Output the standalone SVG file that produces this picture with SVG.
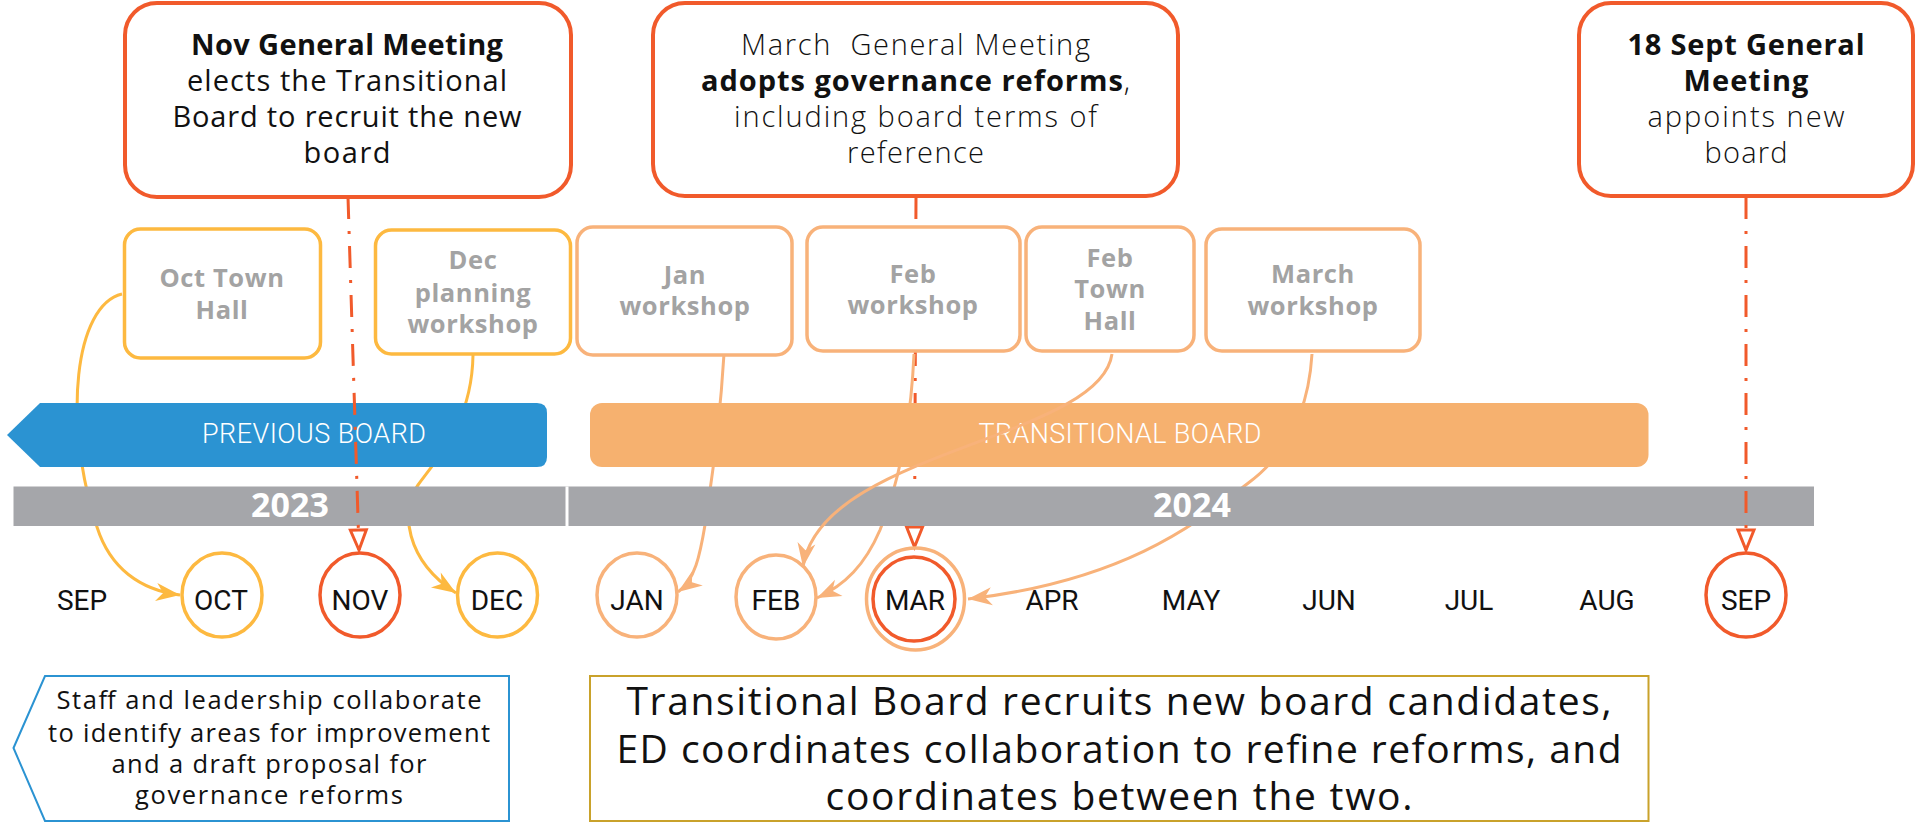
<svg xmlns="http://www.w3.org/2000/svg" width="1917" height="824" viewBox="0 0 1917 824">
<defs>
<style>
.gm{fill:#fff;stroke:#F15A2B;stroke-width:4}
.ws{fill:#fff;stroke-width:3.5}
.wy{stroke:#FDB940}
.wsa{stroke:#F8B27A}
.f{font-family:"Open Sans","Noto Sans","Liberation Sans",sans-serif;fill:#111;text-anchor:middle}
.g28{font-size:29px}
.g27{font-size:29px;font-weight:300}
.b{font-weight:700}
.wst{font-family:"Open Sans","Noto Sans","Liberation Sans",sans-serif;font-weight:700;font-size:25.5px;letter-spacing:0.6px;fill:#A3A3A3;text-anchor:middle}
.mon{font-family:Roboto,"Liberation Sans",sans-serif;font-size:28px;fill:#111;text-anchor:middle}
.mc{fill:none;stroke-width:3.5}
.cy{stroke:#FDB940}
.cs{stroke:#F8B27A}
.cr{stroke:#F15A2B}
.dash{fill:none;stroke:#F15A2B;stroke-width:3;stroke-dasharray:22 12 3 12;marker-end:url(#hollow)}
.cv{fill:none;stroke-width:3}
.bart{font-family:Roboto,"Liberation Sans",sans-serif;font-size:27px;font-weight:300;fill:#fff;text-anchor:middle}
.yr{font-family:"Open Sans","Noto Sans","Liberation Sans",sans-serif;font-size:34px;font-weight:700;fill:#fff;text-anchor:middle}
.bot{font-size:25.5px}
.big{font-size:39px}
</style>
<marker id="hollow" markerUnits="userSpaceOnUse" markerWidth="24" markerHeight="20" refX="20" refY="8" orient="auto" overflow="visible">
<path d="M0,0 L20,8 L0,16 Z" fill="#fff" stroke="#F15A2B" stroke-width="3" stroke-linejoin="miter"/>
</marker>
<marker id="arrY" markerUnits="userSpaceOnUse" markerWidth="26" markerHeight="20" refX="24" refY="9" orient="auto" overflow="visible">
<path d="M0,0 L24,9 L0,18 L7,9 Z" fill="#FDB940"/>
</marker>
<marker id="arrS" markerUnits="userSpaceOnUse" markerWidth="26" markerHeight="20" refX="24" refY="9" orient="auto" overflow="visible">
<path d="M0,0 L24,9 L0,18 L7,9 Z" fill="#F8B27A"/>
</marker>
</defs>
<rect width="1917" height="824" fill="#fff"/>

<g id="connectors">
<path class="dash" d="M916,197 L914.5,547"/>
<path class="cv cy" marker-end="url(#arrY)" d="M122,294 C75,305 62,420 97,527 C110,568 140,590 180,595"/>
<path class="cv cy" marker-end="url(#arrY)" d="M473,355 C472,420 440,455 418,485 C400,510 405,560 456,593"/>
<path class="cv cs" marker-end="url(#arrS)" d="M724,354 C720,420 712,480 705,525 C700,555 695,580 678,592"/>
<path class="cv cs" marker-end="url(#arrS)" d="M914,354 C911,420 900,480 880,530 C865,565 845,585 817,598"/>
<path class="cv cs" marker-end="url(#arrS)" d="M1312,354 C1308,420 1280,460 1247,484 C1200,520 1130,580 968,599"/>
</g>

<g id="previous-board">
<path d="M7,435 L40,403 H537 Q547,403 547,413 V457 Q547,467 537,467 H40 Z" fill="#2B93D2"/>
<text class="bart" x="314" y="443" textLength="224">PREVIOUS BOARD</text>
</g>
<g id="transitional-board">
<rect x="590" y="403" width="1058.5" height="64" rx="12" fill="#F6B16F"/>
<text class="bart" x="1120" y="443" textLength="283">TRANSITIONAL BOARD</text>
</g>
<g id="timeline">
<rect x="13.5" y="486.5" width="1800.5" height="39.5" fill="#A5A6AA"/>
<line x1="567" y1="486.5" x2="567" y2="526" stroke="#fff" stroke-width="3"/>
<text class="yr" x="290" y="517">2023</text>
<text class="yr" x="1192" y="517">2024</text>
</g>

<g id="connectors-over">
<path class="cv cs" marker-end="url(#arrS)" d="M1112,354 C1100,440 820,450 803,567"/>
<path class="dash" d="M348,197 L359,550"/>
<path class="dash" d="M1746,197 L1746,550"/>
</g>

<g id="nov-gm">
<rect class="gm" x="125" y="3" width="446" height="194" rx="32"/>
<text class="f g28 b" x="347" y="55" textLength="312">Nov General Meeting</text>
<text class="f g28" x="347" y="91" textLength="320">elects the Transitional</text>
<text class="f g28" x="347" y="127" textLength="349">Board to recruit the new</text>
<text class="f g28" x="347" y="163" textLength="87">board</text>
</g>
<g id="march-gm">
<rect class="gm" x="653" y="3" width="525" height="193" rx="32"/>
<text class="f g27" x="915.5" y="55" textLength="349" xml:space="preserve">March  General Meeting</text>
<text class="f g27" x="915.5" y="91" textLength="429"><tspan font-weight="700">adopts governance reforms</tspan>,</text>
<text class="f g27" x="915.5" y="127" textLength="363">including board terms of</text>
<text class="f g27" x="915.5" y="163" textLength="137">reference</text>
</g>
<g id="sept-gm">
<rect class="gm" x="1579" y="3" width="334" height="193" rx="32"/>
<text class="f g28 b" x="1746" y="55" textLength="237">18 Sept General</text>
<text class="f g28 b" x="1746" y="91" textLength="125">Meeting</text>
<text class="f g27" x="1746" y="127" textLength="197">appoints new</text>
<text class="f g27" x="1746" y="163" textLength="83">board</text>
</g>

<g id="oct-town-hall">
<rect class="ws wy" x="124.5" y="229" width="196" height="129" rx="16"/>
<text class="wst" x="222" y="287">Oct Town</text>
<text class="wst" x="222" y="319">Hall</text>
</g>
<g id="dec-workshop">
<rect class="ws wy" x="375.5" y="230" width="195" height="124" rx="16"/>
<text class="wst" x="473" y="269">Dec</text>
<text class="wst" x="473" y="302">planning</text>
<text class="wst" x="473" y="333">workshop</text>
</g>
<g id="jan-workshop">
<rect class="ws wsa" x="577" y="227" width="215" height="128" rx="16"/>
<text class="wst" x="685" y="284">Jan</text>
<text class="wst" x="685" y="315">workshop</text>
</g>
<g id="feb-workshop">
<rect class="ws wsa" x="807" y="227" width="213" height="124" rx="16"/>
<text class="wst" x="913" y="283">Feb</text>
<text class="wst" x="913" y="314">workshop</text>
</g>
<g id="feb-town-hall">
<rect class="ws wsa" x="1026" y="227" width="168" height="124" rx="16"/>
<text class="wst" x="1110" y="267">Feb</text>
<text class="wst" x="1110" y="298">Town</text>
<text class="wst" x="1110" y="330">Hall</text>
</g>
<g id="march-workshop">
<rect class="ws wsa" x="1206" y="229" width="214" height="122" rx="16"/>
<text class="wst" x="1313" y="283">March</text>
<text class="wst" x="1313" y="315">workshop</text>
</g>

<g id="months">
<text class="mon" x="82" y="610">SEP</text>
<g id="m-oct"><ellipse class="mc cy" cx="222" cy="595" rx="40" ry="42"/><text class="mon" x="221" y="610">OCT</text></g>
<g id="m-nov"><ellipse class="mc cr" cx="360" cy="595" rx="40" ry="42"/><text class="mon" x="360" y="610">NOV</text></g>
<g id="m-dec"><ellipse class="mc cy" cx="497.5" cy="595" rx="40" ry="42"/><text class="mon" x="497" y="610">DEC</text></g>
<g id="m-jan"><ellipse class="mc cs" cx="637" cy="595" rx="40" ry="42"/><text class="mon" x="637" y="610">JAN</text></g>
<g id="m-feb"><ellipse class="mc cs" cx="776" cy="597" rx="40" ry="42"/><text class="mon" x="776" y="610">FEB</text></g>
<g id="m-mar"><ellipse class="mc cs" cx="915.5" cy="599" rx="49" ry="51"/><ellipse class="mc cr" cx="914" cy="599" rx="41" ry="42"/><text class="mon" x="915" y="610">MAR</text></g>
<text class="mon" x="1052" y="610">APR</text>
<text class="mon" x="1191" y="610">MAY</text>
<text class="mon" x="1329" y="610">JUN</text>
<text class="mon" x="1469" y="610">JUL</text>
<text class="mon" x="1607" y="610">AUG</text>
<g id="m-sep"><ellipse class="mc cr" cx="1746" cy="595" rx="40" ry="42"/><text class="mon" x="1746" y="610">SEP</text></g>
</g>

<g id="staff-note">
<path d="M13.5,748 L45,676 H509 V821 H45 Z" fill="#fff" stroke="#2B93D2" stroke-width="2"/>
<text class="f bot" x="269" y="709" textLength="425">Staff and leadership collaborate</text>
<text class="f bot" x="269" y="741.5" textLength="442">to identify areas for improvement</text>
<text class="f bot" x="269" y="773" textLength="315">and a draft proposal for</text>
<text class="f bot" x="269" y="804" textLength="268">governance reforms</text>
</g>
<g id="transition-note">
<rect x="590" y="676" width="1058.5" height="145" fill="#fff" stroke="#C9A22B" stroke-width="2"/>
<text class="f big" x="1119" y="715" textLength="985">Transitional Board recruits new board candidates,</text>
<text class="f big" x="1119" y="762.5" textLength="1005">ED coordinates collaboration to refine reforms, and</text>
<text class="f big" x="1119" y="810" textLength="587">coordinates between the two.</text>
</g>
</svg>
